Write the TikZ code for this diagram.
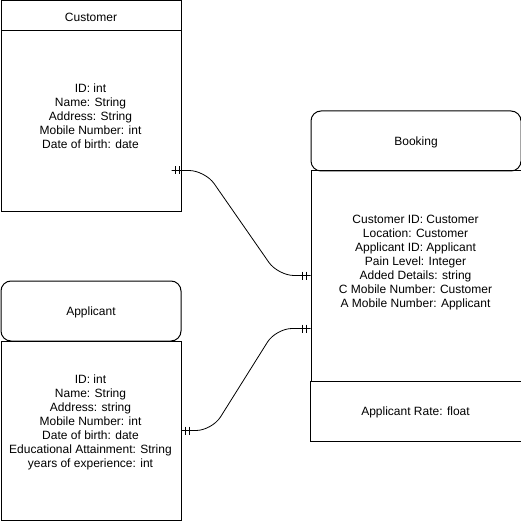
\documentclass[tikz,border=0pt]{standalone}
\usepackage{fontspec}
\setmainfont{Liberation Sans}
\usetikzlibrary{calc}
\begin{document}
\begin{tikzpicture}[x=1pt,y=-1pt,line width=1pt,
  box/.style={draw,rectangle,anchor=north west,inner sep=0pt},
  rbox/.style={box,rounded corners=10pt},
  txt/.style={align=center,font=\fontsize{12pt}{14pt}\selectfont,inner sep=0pt},
  conn/.style={draw,line width=0.8pt,rounded corners=16pt},
  bar/.style={draw,line width=0.8pt}]
\useasboundingbox (0,0) rectangle (521,521);
% Customer
\node[box,minimum width=180pt,minimum height=30pt] (cusH) at (0.5,0.5) {};
\node[txt] at ($(cusH.center)+(0,1)$) {Customer};
\node[box,minimum width=180pt,minimum height=180pt] (cusB) at (0.5,30.5) {};
\node[txt] (cusT) at (90.5,116) {ID: int\\Name: String\\Address: String\\Mobile Number: int\\Date of birth: date};
% Applicant
\node[rbox,minimum width=180pt,minimum height=60pt] (appH) at (0.5,280.5) {};
\node[txt] at ($(appH.center)+(0,1)$) {Applicant};
\node[box,minimum width=180pt,minimum height=179pt] (appB) at (0.5,340.5) {};
\node[txt] (appT) at (90.5,422.5) {ID: int\\Name: String\\Address: string\\Mobile Number: int\\Date of birth: date\\Educational Attainment: String\\years of experience: int};
% Booking
\node[rbox,minimum width=210pt,minimum height=60pt] (bkH) at (310.5,110.5) {};
\node[txt] at ($(bkH.center)+(0,1)$) {Booking};
\node[box,minimum width=210pt,minimum height=210pt] (bkB) at (310.5,170.5) {};
\node[txt] (bkT) at (415.5,263) {Customer ID: Customer\\Location: Customer\\Applicant ID: Applicant\\Pain Level: Integer\\Added Details: string\\C Mobile Number: Customer\\A Mobile Number: Applicant};
\node[box,minimum width=211pt,minimum height=60pt] (bkF) at (309.5,380.5) {};
\node[txt] at ($(bkF.center)+(0,1)$) {Applicant Rate: float};
% connector endpoints
\coordinate (c1) at ($(cusB.north east)+(-10,140)$);
\coordinate (b1) at ($(bkB.north west)+(0,105)$);
\coordinate (a1) at ($(appB.north east)+(0,90)$);
\coordinate (b2) at ($(bkB.north west)+(0,158)$);
% Customer -> Booking
\draw[conn] (c1) -- (205,170.5) -- (278,275.5) -- (b1);
\draw[bar] ($(c1)+(4,-4)$) -- ++(0,8);
\draw[bar] ($(c1)+(8,-4)$) -- ++(0,8);
\draw[bar] ($(b1)+(-8,-4)$) -- ++(0,8);
\draw[bar] ($(b1)+(-4,-4)$) -- ++(0,8);
% Applicant -> Booking
\draw[conn] (a1) -- (212,430.5) -- (276,328.5) -- (b2);
\draw[bar] ($(a1)+(4,-4)$) -- ++(0,8);
\draw[bar] ($(a1)+(8,-4)$) -- ++(0,8);
\draw[bar] ($(b2)+(-8,-4)$) -- ++(0,8);
\draw[bar] ($(b2)+(-4,-4)$) -- ++(0,8);
\end{tikzpicture}
\end{document}
